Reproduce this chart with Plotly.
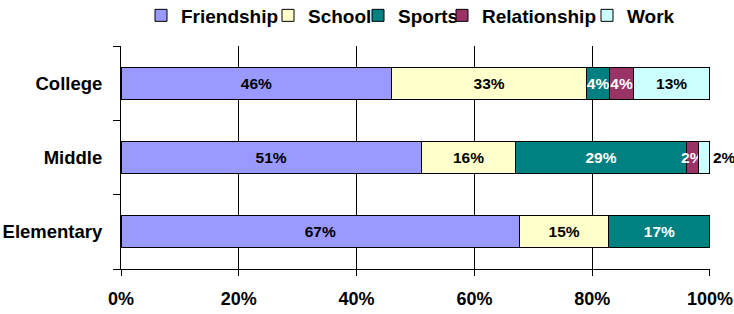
import plotly.graph_objects as go

categories = ["Elementary", "Middle", "College"]
series_names = ["Friendship", "School", "Sports", "Relationship", "Work"]
friendship = [67, 51, 46]
school = [15, 16, 33]
sports = [17, 29, 4]
relationship = [0, 2, 4]
work = [0, 2, 13]
x_ticks = [0, 20, 40, 60, 80, 100]
x_tick_labels = ["0%", "20%", "40%", "60%", "80%", "100%"]

values = [friendship, school, sports, relationship, work]
colors = ["#9999FF", "#FFFFCC", "#008080", "#993366", "#CCFFFF"]
text_colors = ["black", "black", "white", "white", "black"]
# left edge (px) of each legend entry box, laid out in a single row like the reference
legend_left_px = [141, 268, 358, 442, 587]

FONT = "Liberation Sans, Arial, sans-serif"
W, H = 734, 314

fig = go.Figure()
legend_ids = ["legend", "legend2", "legend3", "legend4", "legend5"]
for name, vals, col, tcol, lid in zip(series_names, values, colors, text_colors, legend_ids):
    # a label too wide for its thin end segment sits just past the bar end
    positions = ["outside" if (name == "Work" and v < 3) else "inside" for v in vals]
    fig.add_trace(go.Bar(
        y=categories, x=vals, name=name, orientation="h",
        marker=dict(color=col, line=dict(color="black", width=1)),
        text=[f"{v}%" if v > 0 else "" for v in vals],
        textposition=positions, insidetextanchor="middle", textangle=0,
        textfont=dict(family=FONT, size=15.5, color=tcol, weight="bold"),
        cliponaxis=False, legend=lid,
        hovertemplate="%{y}: " + name + " %{text}<extra></extra>",
    ))

legend_common = dict(
    xref="container", yref="container", y=1 - 15.5 / H, yanchor="middle",
    xanchor="left", bgcolor="rgba(0,0,0,0)", borderwidth=0,
    font=dict(family=FONT, size=19, color="black", weight="bold"),
)
legend_layout = {}
for lid, px in zip(legend_ids, legend_left_px):
    legend_layout[lid] = dict(legend_common, x=px / W)

fig.update_layout(
    barmode="stack", barnorm="percent", bargap=0.57,
    width=W, height=H,
    margin=dict(l=121, r=24, t=46, b=45, autoexpand=False),
    paper_bgcolor="white", plot_bgcolor="white",
    font=dict(family=FONT, size=18, color="black", weight="bold"),
    uniformtext=dict(minsize=15.5, mode="show"),
    showlegend=True,
    **legend_layout,
)
fig.update_xaxes(
    range=[0, 100.001], tickvals=x_ticks, ticktext=x_tick_labels,
    showgrid=True, gridcolor="black", gridwidth=1,
    showline=True, linecolor="black", linewidth=1,
    ticks="outside", ticklen=6, tickcolor="black",
    ticklabelstandoff=7, zeroline=False,
    tickfont=dict(family=FONT, size=18, weight="bold"),
)
fig.update_yaxes(
    categoryorder="array", categoryarray=categories,
    showline=True, linecolor="black", linewidth=1,
    ticks="outside", ticklen=7, tickcolor="black", tickson="boundaries",
    ticklabelstandoff=14, showgrid=False,
    tickfont=dict(family=FONT, size=18.5, weight="bold"),
)

fig.write_html("out.html")
